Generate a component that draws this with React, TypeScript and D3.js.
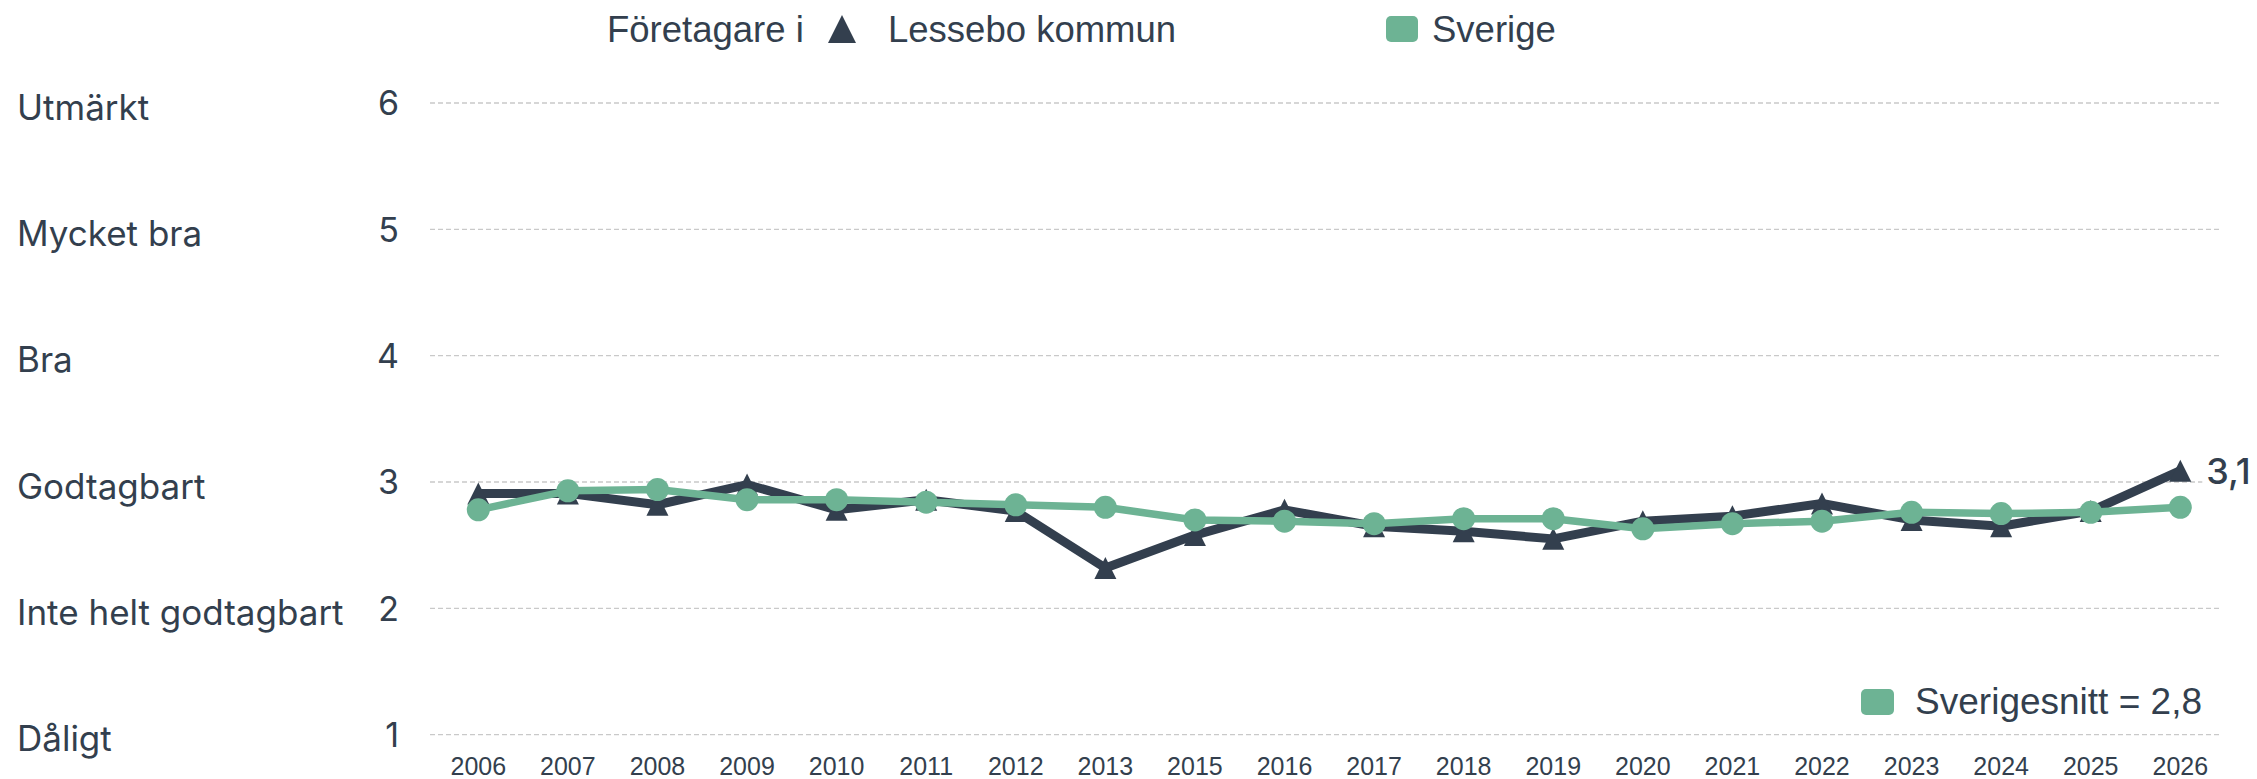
import * as d3 from 'd3';

const years = ['2006', '2007', '2008', '2009', '2010', '2011', '2012', '2013', '2015', '2016',
  '2017', '2018', '2019', '2020', '2021', '2022', '2023', '2024', '2025', '2026'];
const lessebo = [2.91, 2.91, 2.82, 2.98, 2.78, 2.86, 2.77, 2.32, 2.58, 2.78,
  2.65, 2.61, 2.55, 2.69, 2.73, 2.83, 2.70, 2.65, 2.77, 3.09];
const sverige = [2.78, 2.93, 2.94, 2.86, 2.86, 2.84, 2.82, 2.80, 2.70, 2.69,
  2.67, 2.71, 2.71, 2.63, 2.67, 2.69, 2.76, 2.75, 2.76, 2.80];
const yTicks = [1, 2, 3, 4, 5, 6];
const yCategories = ['Dåligt', 'Inte helt godtagbart', 'Godtagbart', 'Bra', 'Mycket bra', 'Utmärkt'];
const lastLabel = '3,1';
const avgLabel = 'Sverigesnitt = 2,8';

const W = 2257;
const H = 779;
const DARK = '#333f4e';
const GREEN = '#6db394';
const TEXT = '#333f4e';

export default function App() {
  const x = d3.scalePoint<string>().domain(years).range([478.3, 2180.3]);
  const y = d3.scaleLinear().domain([1, 6]).range([734.7, 103]);

  const line = d3.line<number>()
    .x((_, i) => x(years[i])!)
    .y(d => y(d));

  const tri = (cx: number, cy: number, s = 10) =>
    `M${cx},${cy - s}L${cx + s},${cy + s}L${cx - s},${cy + s}Z`;

  const lastX = x(years[years.length - 1])!;
  const lastY = y(lessebo[lessebo.length - 1]);

  return (
    <svg width={W} height={H} style={{ position: 'absolute', left: 0, top: 0, background: '#fff' }}>
      {/* grid */}
      {yTicks.map(t => (
        <line key={t} x1={430} x2={2222} y1={y(t)} y2={y(t)}
          stroke="#c9c9c9" strokeWidth={1.3} strokeDasharray="5,3" />
      ))}

      {/* y labels */}
      {yTicks.map((t, i) => (
        <g key={'yl' + t} fontFamily="Inter, sans-serif" fill={TEXT}>
          <text x={17} y={y(t) + 4} dy="0.36em" fontSize={35}>{yCategories[i]}</text>
          <text x={399} y={y(t)} dy="0.36em" fontSize={34} textAnchor="end">{t}</text>
        </g>
      ))}

      {/* x labels */}
      {years.map(yr => (
        <text key={yr} x={x(yr)} y={775} textAnchor="middle"
          fontFamily="'Liberation Sans', Arial, sans-serif" fontSize={25} fill={TEXT}>{yr}</text>
      ))}

      {/* Lessebo line */}
      <path d={line(lessebo)!} fill="none" stroke={DARK} strokeWidth={9} strokeLinejoin="round" />
      {lessebo.map((v, i) => (
        <path key={'t' + i} d={tri(x(years[i])!, y(v), 11)} fill={DARK} />
      ))}

      {/* Sverige line */}
      <path d={line(sverige)!} fill="none" stroke={GREEN} strokeWidth={7.5} strokeLinejoin="round" />
      {sverige.map((v, i) => (
        <circle key={'c' + i} cx={x(years[i])} cy={y(v)} r={11.5} fill={GREEN} />
      ))}

      {/* last value label */}
      <rect x={lastX + 22} y={lastY - 20} width={60} height={40} fill="#fff" />
      <text x={lastX + 26} y={lastY} dy="0.36em" fontFamily="Inter, sans-serif"
        fontSize={36} fontWeight={500} fill={TEXT}>{lastLabel}</text>

      {/* top legend */}
      <g fontFamily="'Liberation Sans', Arial, sans-serif" fontSize={36.5} fill={TEXT}>
        <text x={607} y={42}>Företagare i</text>
        <path d={tri(842, 29, 14)} fill={DARK} />
        <text x={888} y={42}>Lessebo kommun</text>
        <rect x={1386} y={16} width={32} height={26} rx={5} fill={GREEN} />
        <text x={1432} y={42}>Sverige</text>
      </g>

      {/* average legend */}
      <g fontFamily="'Liberation Sans', Arial, sans-serif" fontSize={37} fill={TEXT}>
        <rect x={1861} y={689} width={33} height={26} rx={5} fill={GREEN} />
        <text x={2202} y={714} textAnchor="end">{avgLabel}</text>
      </g>
    </svg>
  );
}
